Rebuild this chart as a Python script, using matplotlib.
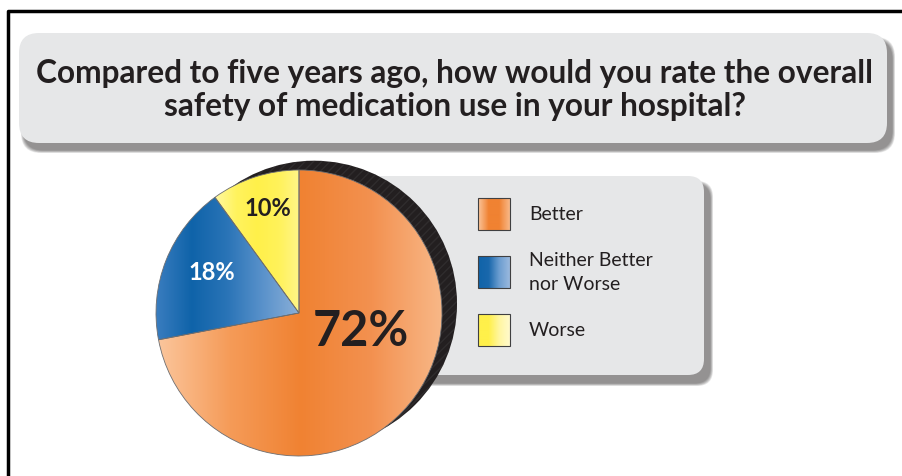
import matplotlib.pyplot as plt
import numpy as np
from matplotlib.patches import FancyBboxPatch, Circle, Rectangle
from matplotlib.colors import LinearSegmentedColormap

plt.rcParams['font.family'] = ['Lato', 'DejaVu Sans']

# data
categories = ['Better', 'Neither Better\nnor Worse', 'Worse']
shares = [72, 18, 10]
pct_labels = ['72%', '18%', '10%']
title = 'Compared to five years ago, how would you rate the overall\nsafety of medication use in your hospital?'

# gradient stops per slice (left -> right across each slice)
grads = [
    ['#fbc59b', '#f59b58', '#f08232', '#f39150', '#f8b888'],
    ['#3a7dbf', '#0f63a9', '#2a74b7', '#5a92cb', '#8aafd8'],
    ['#fff8a0', '#fff35e', '#fff04a', '#fff25a', '#fff58a'],
]
swatch_grads = [
    ['#fbc59b', '#f08232', '#f08232', '#f8b888'],
    ['#0f63a9', '#1a68ac', '#6b9dd0', '#9ab9de'],
    ['#fff04a', '#fff04a', '#fff6a0', '#fffacc'],
]
label_pos = [(0.43, -0.13), (-0.61, 0.28), (-0.22, 0.73)]
label_size = [35, 17, 17]
label_col = ['#231f20', 'white', '#231f20']

W, H = 903, 476
fig = plt.figure(figsize=(W / 100, H / 100), dpi=100)
bg = fig.add_axes([0, 0, 1, 1])
bg.axis('off')

# outer frame (top and left only)
bg.plot([8.5, 8.5, 903], [480, 11, 11], color='black', lw=2.5, solid_capstyle='butt')


def box(x0, y0, x1, y1, r, fc, shadow=(5, 7)):
    # soft shadow
    for k in range(6):
        grow = 6 - k
        bg.add_patch(FancyBboxPatch((x0 + shadow[0] - grow / 2, y0 + shadow[1] - grow / 2),
                                    x1 - x0 + grow, y1 - y0 + grow,
                                    boxstyle=f'round,pad=0,rounding_size={r}',
                                    fc='#231f20', ec='none', alpha=0.10, zorder=1))
    bg.add_patch(FancyBboxPatch((x0, y0), x1 - x0, y1 - y0,
                                boxstyle=f'round,pad=0,rounding_size={r}',
                                fc=fc, ec='none', zorder=2))


box(19, 33, 887, 143, 20, '#e6e7e8')
bg.text(455, 90, title, ha='center', va='center', fontsize=22.8, fontweight='bold',
        color='#231f20', linespacing=1.2, zorder=3)

box(290, 176, 704, 375, 16, '#e6e7e8', shadow=(6, 8))

# legend (manual, gradient swatches)
leg_y = [214, 272, 330]
for cat, g, y in zip(categories, swatch_grads, leg_y):
    cmap = LinearSegmentedColormap.from_list('g', g)
    bg.imshow(np.linspace(0, 1, 64)[None, :], cmap=cmap, aspect='auto',
              extent=(478, 510, y + 16, y - 16), zorder=5)
    bg.add_patch(Rectangle((478, y - 16), 32, 32, fc='none', ec='#404041', lw=0.8, zorder=6))
    bg.text(529, y, cat, ha='left', va='center', fontsize=14, color='#231f20',
            linespacing=1.5, zorder=6)
bg.set_xlim(0, W)
bg.set_ylim(H, 0)

# pie
cx, cy, r = 299, 313, 143
ax = fig.add_axes([(cx - r) / W, (H - cy - r) / H, 2 * r / W, 2 * r / H])
ax.set_zorder(2)
wedges, _ = ax.pie(shares, colors=[g[2] for g in grads], startangle=90, counterclock=False,
                   wedgeprops=dict(lw=0.6, ec='#6d6e71'))

# black back disc
ax.add_patch(Circle((0.105, 0.065), 1.0, fc='#231f20', ec='none', zorder=0.5, clip_on=False))
ax.add_patch(Circle((0.105, 0.065), 1.0, fc='none', ec='#555555', lw=0, hatch='////',
                    zorder=0.6, clip_on=False, alpha=0.25))

for w, g in zip(wedges, grads):
    ext = w.get_path().get_extents()
    cmap = LinearSegmentedColormap.from_list('g', g)
    im = ax.imshow(np.linspace(0, 1, 256)[None, :], cmap=cmap, aspect='auto',
                   extent=(ext.x0, ext.x1, -1, 1), zorder=2, interpolation='bilinear')
    im.set_clip_path(w)
    w.set_facecolor('none')
    w.set_zorder(3)
ax.set_xlim(-1, 1)
ax.set_ylim(-1, 1)
ax.set_aspect('equal')

for t, p, s, c in zip(pct_labels, label_pos, label_size, label_col):
    ax.text(p[0], p[1], t, ha='center', va='center', fontsize=s, fontweight='bold',
            color=c, zorder=5)

fig.savefig('out.png', dpi=100)
